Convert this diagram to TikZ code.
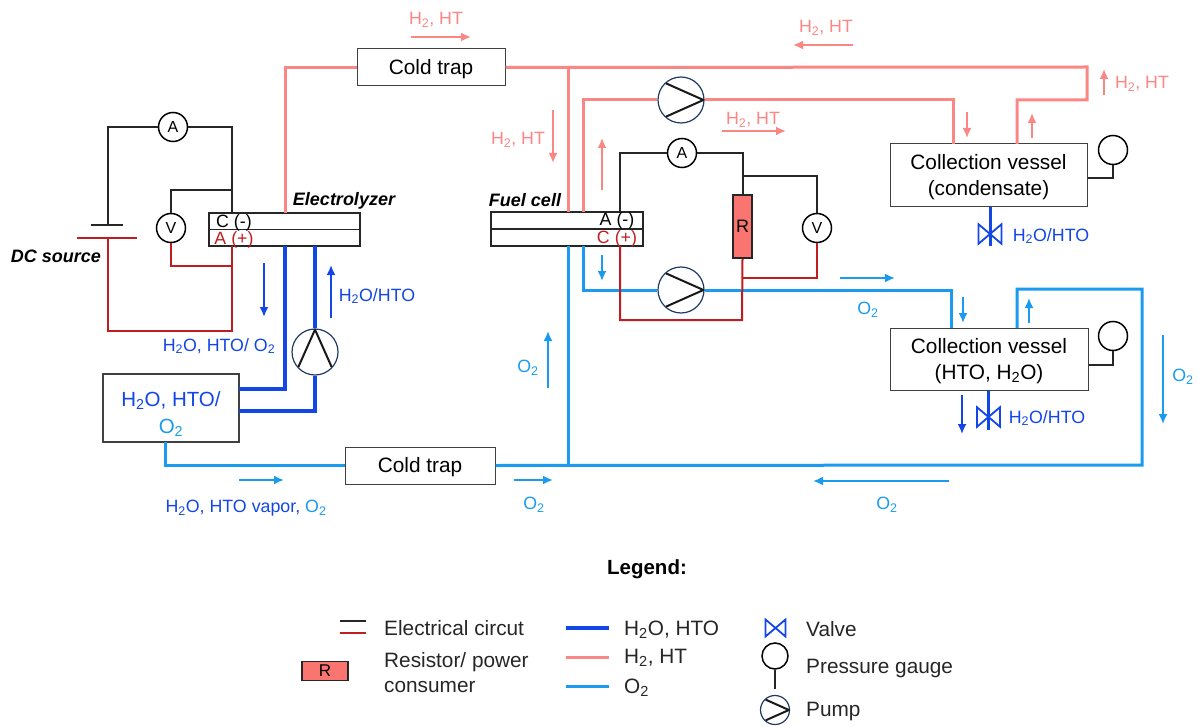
\documentclass[tikz,border=0pt]{standalone}
\usepackage{fontspec}
\setmainfont{Liberation Sans}
\usetikzlibrary{arrows.meta}
\definecolor{pinkpipe}{HTML}{FB8784}
\definecolor{bluepipe}{HTML}{1246E6}
\definecolor{skypipe}{HTML}{1A9BEF}
\definecolor{wirered}{HTML}{BE1E22}
\definecolor{pumpnavy}{HTML}{1F3A64}
\definecolor{resfill}{HTML}{FB7570}
\newcommand{\two}{\textsubscript{2}}
\newcommand{\capline}{\rule{0pt}{19pt}}
\tikzset{
  box/.style={draw=black!75,line width=1pt,fill=white,inner sep=0pt,align=center,font=\fontsize{20.8}{26}\selectfont},
  cell/.style={draw=black!85,line width=1.2pt,inner sep=0pt},
  meter/.style={circle,draw=black,line width=1.5pt,fill=white,minimum size=29pt,inner sep=0pt,font=\fontsize{16}{18}\selectfont},
  pumpring/.style={circle,draw=pumpnavy,line width=1.2pt,fill=white,inner sep=0pt},
  wire/.style={line width=2pt,black!85},
  redwire/.style={line width=2pt,wirered},
  h2pipe/.style={line width=3pt,pinkpipe},
  waterpipe/.style={line width=3.2pt,bluepipe},
  o2pipe/.style={line width=3pt,skypipe},
  pinkflow/.style={line width=1.8pt,pinkpipe,-{Latex[length=10pt,width=9pt]}},
  blueflow/.style={line width=1.8pt,bluepipe,-{Latex[length=10pt,width=9pt]}},
  skyflow/.style={line width=1.8pt,skypipe,-{Latex[length=10pt,width=9pt]}},
  lbl/.style={inner sep=0pt,yshift=-1pt,font=\fontsize{17.8}{20}\selectfont},
  leg/.style={inner sep=0pt,yshift=-1.5pt,anchor=west,font=\fontsize{20.8}{25}\selectfont,align=left,text=black!85},
  head/.style={inner sep=0pt,yshift=-2pt,font=\bfseries\itshape\fontsize{18}{20}\selectfont}
}
\begin{document}
\begin{tikzpicture}[x=1pt,y=-1pt]
\useasboundingbox (0,0) rectangle (1198,727);
\newcommand{\pumpsym}[4]{
  \node[pumpring,minimum size=#4pt] (#1) at (#2) {};
  \draw[line width=2pt,black!90,line join=round] (#1.center) +(#3+132:#4/2-.6) -- +(#3:#4/2-.6) -- +(#3-132:#4/2-.6);
}
\newcommand{\valvesym}[3]{
  \coordinate (#1) at (#2);
  \draw[line width=1.8pt,bluepipe] (#1) +(-#3,-#3*.85) -- +(#3,#3*.85) -- +(#3,-#3*.85) -- +(-#3,#3*.85) -- cycle;
}

% boxes
\node[box,minimum width=148pt,minimum height=37pt] (trapTop) at (431,67.5) {\capline Cold trap};
\node[box,minimum width=150pt,minimum height=37pt] (trapBot) at (420,465.5) {\capline Cold trap};
\node[box,minimum width=197pt,minimum height=63pt] (vesselA) at (988.5,175.5) {\capline Collection vessel\\(condensate)};
\node[box,minimum width=198pt,minimum height=62pt] (vesselB) at (989,359) {\capline Collection vessel\\(HTO, H\two O)};
\node[box,minimum width=136pt,minimum height=68pt,line width=1.3pt] (tank) at (171,408) {};
\node[lbl,font=\fontsize{20.5}{22}\selectfont,text=bluepipe] (tankWater) at (171,400) {H\two O, HTO/};
\node[lbl,font=\fontsize{20.5}{22}\selectfont,text=skypipe] (tankOxy) at (171,427) {O\two};

% cells
\node[cell,minimum width=151pt,minimum height=33pt] (ely) at (284.5,229.5) {};
\node[cell,minimum width=152pt,minimum height=34pt] (fc) at (567,229) {};
\draw[line width=1.2pt,black!85] (ely.west) -- (ely.east);
\draw[line width=1.2pt,black!85] (fc.west) -- (fc.east);

% meters, resistor
\node[meter] (ampL) at (173,127) {A};
\node[meter] (voltL) at (171,228) {V};
\node[meter] (ampR) at (682,153) {A};
\node[meter] (voltR) at (817,228) {V};
\node[draw=black!85,line width=1.5pt,fill=resfill,minimum width=19pt,minimum height=63pt,inner sep=0pt,font=\fontsize{18}{20}\selectfont] (res) at (742.5,226.5) {R};
\node[meter,fill=none] (gaugeA) at (1113,150) {};
\node[meter,fill=none] (gaugeB) at (1113,336) {};

% pumps
\pumpsym{pumpElec}{315,352}{-90}{46}
\pumpsym{pumpH}{681,100}{0}{46}
\pumpsym{pumpO}{681,290}{0}{46}

% ports on the boxes
\coordinate (elyH) at (285,213);
\coordinate (elyOut) at (285,246);
\coordinate (elyIn) at (315,246);
\coordinate (elyNeg) at (232,213);
\coordinate (elyPos) at (232,246);
\coordinate (fcH) at (568,212);
\coordinate (fcHb) at (583,212);
\coordinate (fcO) at (568,246);
\coordinate (fcOb) at (583,246);
\coordinate (fcNeg) at (620,212);
\coordinate (fcPos) at (620,246);
\coordinate (tankA) at (239,389);
\coordinate (tankB) at (239,411);
\coordinate (tankO) at (165,442);
\coordinate (vesAin) at (953,144);
\coordinate (vesAout) at (1017,144);
\coordinate (vesBin) at (951,328);
\coordinate (vesBout) at (1017,328);
\coordinate (teeH) at (568,67);
\coordinate (teeO) at (568,465);

% hydrogen lines
\draw[h2pipe] (elyH) |- (trapTop.west);
\draw[h2pipe] (trapTop.east) -- (1087,67) -- (1087,100) -| (vesAout);
\draw[h2pipe] (teeH) -- (fcH);
\draw[h2pipe] (fcHb) |- (pumpH.west);
\draw[h2pipe] (pumpH.east) -| (vesAin);

% water lines
\draw[waterpipe] (elyOut) |- (tankA);
\draw[waterpipe] (tankB) -| (pumpElec.south);
\draw[waterpipe] (pumpElec.north) -- (elyIn);

% oxygen lines
\draw[o2pipe] (tankO) |- (trapBot.west);
\draw[o2pipe] (trapBot.east) -- (1142,465) -- (1142,289) -| (vesBout);
\draw[o2pipe] (fcO) -- (teeO);
\draw[o2pipe] (fcOb) |- (pumpO.west);
\draw[o2pipe] (pumpO.east) -| (vesBin);

% circuit, electrolyzer
\coordinate (batNeg) at (108,225);
\coordinate (batPos) at (108,238);
\coordinate (tapNeg) at (232,190);
\coordinate (tapPos) at (232,266);
\draw[wire] (batNeg) |- (ampL.west);
\draw[wire] (ampL.east) -| (elyNeg);
\draw[wire] (voltL.north) |- (tapNeg);
\draw[wire] (91,225) -- (123,225);
\draw[redwire] (77,238) -- (137,238);
\draw[redwire] (voltL.south) |- (tapPos);
\draw[redwire] (elyPos) -- (232,331) -| (batPos);

% circuit, fuel cell
\coordinate (tapNegR) at (742,176);
\coordinate (tapPosR) at (742,278);
\draw[wire] (fcNeg) |- (ampR.west);
\draw[wire] (ampR.east) -| (res.north);
\draw[wire] (tapNegR) -| (voltR.north);
\draw[redwire] (voltR.south) |- (tapPosR);
\draw[redwire] (res.south) -- (742,320) -| (fcPos);

% gauges
\draw[wire] (gaugeA.south) |- (vesselA.east |- 0,178);
\draw[wire] (gaugeB.south) |- (vesselB.east |- 0,365);

% valves
\coordinate (outA) at (990,246);
\coordinate (outB) at (988,430);
\draw[line width=3pt,bluepipe] (vesselA.south -| outA) -- (outA);
\draw[line width=3pt,bluepipe] (vesselB.south -| outB) -- (outB);
\valvesym{valveA}{990,234}{11.5}
\valvesym{valveB}{988.5,417}{11.5}

% flow arrows
\foreach \n/\xa/\ya/\xb/\yb in {p1/411/37/471/37,p2/853/45/793/45,p3/553/110/553/163,p4/602/190/602/138,p5/722/131/786/131,p6/967/112/967/138,p7/1032/138/1032/113,p8/1104/95/1104/69} {
  \coordinate (\n a) at (\xa,\ya);
  \coordinate (\n b) at (\xb,\yb);
  \draw[pinkflow] (\n a) -- (\n b);
}
\foreach \n/\xa/\ya/\xb/\yb in {b1/264/263/264/317,b2/331/318/331/265,b3/962/395/962/434} {
  \coordinate (\n a) at (\xa,\ya);
  \coordinate (\n b) at (\xb,\yb);
  \draw[blueflow] (\n a) -- (\n b);
}
\foreach \n/\xa/\ya/\xb/\yb in {s1/602/255/602/281,s2/548/388/548/331,s3/840/278/895/278,s4/963/297/963/323,s5/1029/323/1029/298,s6/1163/335/1163/424,s7/239/480/284/480,s8/514/480/553/480,s9/949/481/813/481} {
  \coordinate (\n a) at (\xa,\ya);
  \coordinate (\n b) at (\xb,\yb);
  \draw[skyflow] (\n a) -- (\n b);
}

% labels
\node[lbl,text=pinkpipe] (lblH1) at (436,19) {H\two, HT};
\node[lbl,text=pinkpipe] (lblH2) at (826,27) {H\two, HT};
\node[lbl,text=pinkpipe] (lblH3) at (518,139) {H\two, HT};
\node[lbl,text=pinkpipe] (lblH4) at (753,119) {H\two, HT};
\node[lbl,text=pinkpipe] (lblH5) at (1142,83) {H\two, HT};
\node[lbl,text=bluepipe] (lblW1) at (377,295) {H\two O/HTO};
\node[lbl,text=bluepipe] (lblW2) at (219,345) {H\two O, HTO/ O\two};
\node[lbl,text=bluepipe] (lblW3) at (1051,235) {H\two O/HTO};
\node[lbl,text=bluepipe] (lblW4) at (1047,417) {H\two O/HTO};
\node[lbl,text=bluepipe] (lblW5) at (246,507) {H\two O, HTO vapor, \textcolor{skypipe}{O\two}};
\node[lbl,text=skypipe] (lblO1) at (528,367) {O\two};
\node[lbl,text=skypipe] (lblO2) at (868,309) {O\two};
\node[lbl,text=skypipe] (lblO3) at (1183,376) {O\two};
\node[lbl,text=skypipe] (lblO4) at (534,504) {O\two};
\node[lbl,text=skypipe] (lblO5) at (887,504) {O\two};
\node[head] (lblDC) at (56,254) {DC source};
\node[head] (lblEly) at (344,199) {Electrolyzer};
\node[head] (lblFC) at (525,198) {Fuel cell};
\node[lbl] (elyC) at (234,222) {C (-)};
\node[lbl,text=wirered] (elyA) at (234,239) {A (+)};
\node[lbl] (fcA) at (617,220) {A (-)};
\node[lbl,text=wirered] (fcC) at (617,238) {C (+)};

% legend
\node[inner sep=0pt,yshift=-2pt,font=\bfseries\fontsize{20.5}{22}\selectfont] (legTitle) at (647,567) {Legend:};
\coordinate (legKa) at (340,621);
\coordinate (legKb) at (366,621);
\coordinate (legRa) at (340,633);
\coordinate (legRb) at (366,633);
\draw[wire] (legKa) -- (legKb);
\draw[redwire] (legRa) -- (legRb);
\node[leg] (legCirc) at (384,627) {Electrical circut};
\node[draw=black!85,line width=1.5pt,fill=resfill,minimum width=46pt,minimum height=19pt,inner sep=0pt,font=\fontsize{17}{17}\selectfont] (legRes) at (325,671) {R};
\node[leg] (legResT) at (384,671) {Resistor/ power\\consumer};
\foreach \n/\y/\s in {a/628/waterpipe,b/657/h2pipe,c/686/o2pipe} {
  \coordinate (leg\n l) at (566,\y);
  \coordinate (leg\n r) at (609,\y);
  \draw[\s] (leg\n l) -- (leg\n r);
}
\node[leg] (legWater) at (624,628) {H\two O, HTO};
\node[leg] (legH2) at (624,656) {H\two, HT};
\node[leg] (legO2) at (624,686) {O\two};
\valvesym{legValve}{775.5,628}{10}
\node[leg] (legValveT) at (806,628) {Valve};
\node[meter,fill=none,minimum size=26pt] (legGauge) at (775,656) {};
\coordinate (legStem) at (775,689);
\draw[wire] (legGauge.south) -- (legStem);
\node[leg] (legGaugeT) at (806,667) {Pressure gauge};
\pumpsym{legPump}{775,710}{0}{29}
\node[leg] (legPumpT) at (806,710) {Pump};
\end{tikzpicture}
\end{document}
